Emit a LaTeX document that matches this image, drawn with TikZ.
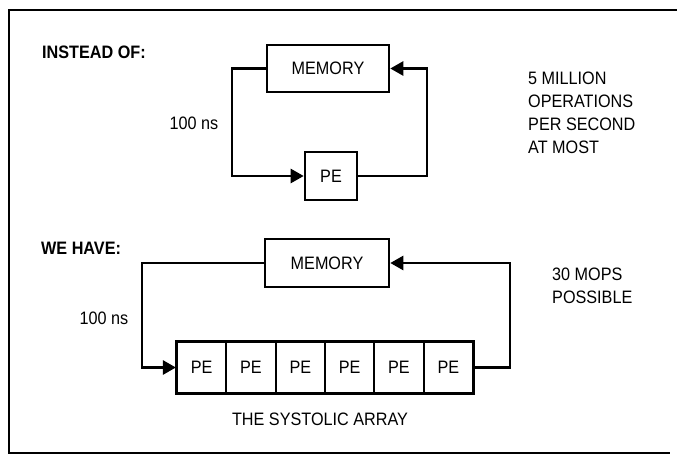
\documentclass[tikz,border=0pt]{standalone}
\usepackage{fontspec}
\setmainfont[FakeStretch=0.9]{Liberation Sans}
\usetikzlibrary{arrows.meta}
\begin{document}
\begin{tikzpicture}[x=1pt,y=-1pt,
  txt/.style={font=\fontsize{18}{23}\selectfont, inner sep=0pt},
  hdr/.style={font=\fontsize{18}{23}\selectfont\bfseries, inner sep=0pt, anchor=west},
  box/.style={draw, line width=2.6pt, font=\fontsize{18}{23}\selectfont, inner sep=0pt},
  cell/.style={draw, line width=2.2pt, font=\fontsize{18}{23}\selectfont, inner sep=0pt,
    minimum width=49.3pt, minimum height=51pt},
  conn/.style={line width=2.6pt, -{Triangle[length=13pt,width=14pt]}},
  frameline/.style={line width=2.2pt}]
\useasboundingbox (0,0) rectangle (677,457);
% frame
\draw[frameline] (677,10) -- (9,10) -- (9,453) -- (670,453);

% top part
\node[hdr] (h1) at (42,52) {INSTEAD OF:};
\node[box, minimum width=122pt, minimum height=47pt] (mem1) at (328,68.5) {MEMORY};
\node[box, minimum width=52pt, minimum height=48pt] (pe1) at (331,176) {PE};
\coordinate (l1) at (232,68.5);
\coordinate (r1) at (427,176);
\draw[conn] (mem1.west) -- (l1) |- (pe1.west);
\draw[conn] (pe1.east) -- (r1) |- (mem1.east);
\node[txt] (ns1) at (194,123) {100 ns};
\node[txt, align=left, anchor=west] (t1) at (528,113) {5 MILLION\\OPERATIONS\\PER SECOND\\AT MOST};

% bottom part
\node[hdr] (h2) at (41,248) {WE HAVE:};
\node[box, minimum width=124pt, minimum height=48pt] (mem2) at (327,263) {MEMORY};
\foreach \i in {1,...,6}{
  \node[cell] (c\i) at ({177+49.33*(\i-0.5)},367.5) {PE};
}
\draw[line width=2.6pt] (c1.north west) rectangle (c6.south east);
\coordinate (l2) at (142,263);
\coordinate (r2) at (510,367.5);
\draw[conn] (mem2.west) -- (l2) |- (c1.west);
\draw[conn] (c6.east) -- (r2) |- (mem2.east);
\node[txt] (ns2) at (104,318) {100 ns};
\node[txt, align=left, anchor=west] (t2) at (552,286) {30 MOPS\\POSSIBLE};
\node[txt] (sys) at (320,419) {THE SYSTOLIC ARRAY};
\end{tikzpicture}
\end{document}
